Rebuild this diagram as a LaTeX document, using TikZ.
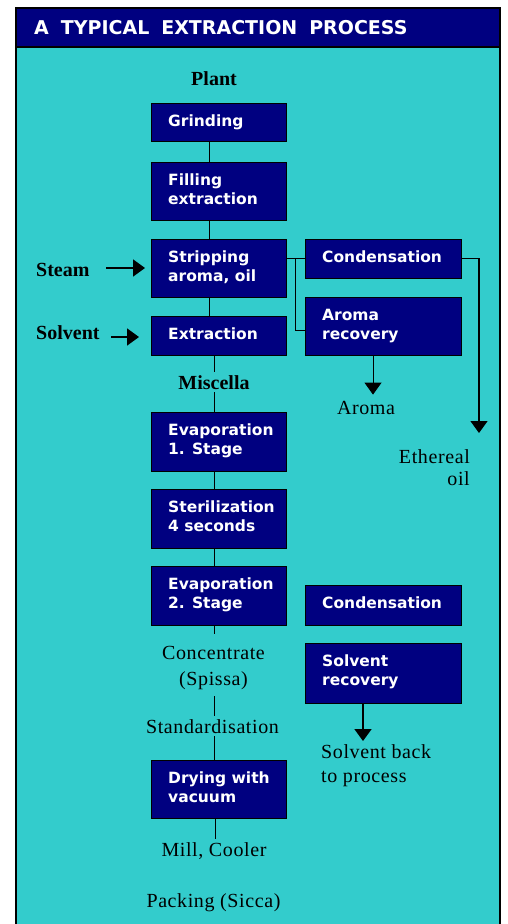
\documentclass[tikz,border=0pt]{standalone}
\usepackage{fontspec}
\setmainfont{Liberation Serif}
\newfontfamily\boxfont{DejaVu Sans}
\newfontfamily\lblfont[LetterSpace=3]{Liberation Serif}
\usetikzlibrary{arrows.meta}
\definecolor{bgteal}{RGB}{51,204,204}
\definecolor{navyc}{RGB}{0,0,128}
\newcommand\twol[3][l]{\begin{tabular}[t]{@{}#1@{}}#2\\#3\end{tabular}}
\begin{document}
\begin{tikzpicture}[x=1pt,y=-1pt,
  procbox/.style={draw=black, line width=0.8pt, fill=navyc, anchor=north west, inner sep=0pt, outer sep=0pt},
  lbox/.style={procbox, minimum width=135pt},
  rbox/.style={procbox, minimum width=156pt},
  btext/.style={anchor=base west, inner sep=0pt, text=white, font=\boxfont\bfseries\fontsize{15.5}{19}\selectfont},
  slabel/.style={inner sep=3pt, font=\lblfont\fontsize{20}{24}\selectfont},
  blabel/.style={inner sep=3pt, font=\bfseries\fontsize{20}{24}\selectfont},
  conn/.style={black, line width=0.8pt},
  arr/.style={black, line width=1.8pt, -{Triangle[width=17pt,length=12pt]}},
  midarr/.style={black, line width=1.4pt, -{Triangle[width=17pt,length=12pt]}},
  thinarr/.style={black, line width=0.9pt, -{Triangle[width=17pt,length=12pt]}},
]
\useasboundingbox (0,0) rectangle (507,924);
\fill[white] (0,0) rectangle (507,924);
% frame
\fill[bgteal] (16,8) rectangle (500,935);
\draw[line width=1.5pt] (16,8) rectangle (500,935);
\filldraw[fill=navyc, draw=black, line width=1.2pt] (16,8) rectangle (500,47);
\node[anchor=base west, inner sep=0pt, text=white, font=\boxfont\bfseries\fontsize{19}{23}\selectfont] (title) at (34,34) {\spaceskip=12pt\relax A TYPICAL EXTRACTION PROCESS};

% spine coordinates
\coordinate (xa) at (209,0);
\coordinate (xb) at (214,0);
\coordinate (xc) at (215,0);
\coordinate (xbr) at (295,0);
\coordinate (xr) at (373,0);
\coordinate (xs) at (363,0);

% left boxes
\node[lbox, minimum height=38pt] (grind) at (151,103) {};
\node[btext] (grindT) at (168,126) {Grinding};
\node[lbox, minimum height=58pt] (fill) at (151,162) {};
\node[btext] (fillT) at (168,185) {\twol{Filling}{extraction}};
\node[lbox, minimum height=58pt] (strip) at (151,239) {};
\node[btext] (stripT) at (168,262) {\twol{Stripping}{aroma, oil}};
\node[lbox, minimum height=39pt] (extr) at (151,316) {};
\node[btext] (extrT) at (168,339) {Extraction};
\node[lbox, minimum height=59pt] (evapa) at (151,412) {};
\node[btext] (evapaT) at (168,435) {\twol{Evaporation}{1. Stage}};
\node[lbox, minimum height=59pt] (steril) at (151,489) {};
\node[btext] (sterilT) at (168,512) {\twol{Sterilization}{4 seconds}};
\node[lbox, minimum height=59pt] (evapb) at (151,566) {};
\node[btext] (evapbT) at (168,589) {\twol{Evaporation}{2. Stage}};
\node[lbox, minimum height=58pt] (dry) at (151,760) {};
\node[btext] (dryT) at (168,783) {\twol{Drying with}{vacuum}};

% right boxes
\node[rbox, minimum height=39pt] (conda) at (305,239) {};
\node[btext] (condaT) at (322,262) {Condensation};
\node[rbox, minimum height=58pt] (aromarec) at (305,297) {};
\node[btext] (aromarecT) at (322,320) {\twol{Aroma}{recovery}};
\node[rbox, minimum height=40pt] (condb) at (305,585) {};
\node[btext] (condbT) at (322,608) {Condensation};
\node[rbox, minimum height=60pt] (solvrec) at (305,643) {};
\node[btext] (solvrecT) at (322,666) {\twol{Solvent}{recovery}};

% labels
\node[blabel, anchor=base] (plant) at (214,85) {Plant};
\node[blabel, anchor=base west] (steam) at (33,276) {Steam};
\node[blabel, anchor=base west] (solvent) at (33,339) {Solvent};
\node[blabel, anchor=base] (misc) at (214,389) {Miscella};
\node[slabel, anchor=base] (aroma) at (366,414) {Aroma};
\node[slabel, anchor=base east, font=\lblfont\fontsize{20}{22}\selectfont] (eth) at (473,463) {\twol[r]{Ethereal}{oil}};
\node[slabel, anchor=base, font=\lblfont\fontsize{20}{26}\selectfont] (conc) at (213.5,659) {\twol[c]{Concentrate}{(Spissa)}};
\node[slabel, anchor=base] (stand) at (212.5,733) {Standardisation};
\node[slabel, anchor=base west, inner sep=0pt] (solvback) at (321,758) {\twol{Solvent back}{to process}};
\node[slabel, anchor=base] (mill) at (214,856) {Mill, Cooler};
\node[slabel, anchor=base] (pack) at (213.5,907) {Packing (Sicca)};

% free ends
\coordinate (stA) at (106,268);
\coordinate (stB) at (145,268);
\coordinate (soA) at (111,337);
\coordinate (soB) at (139,337);
\coordinate (ethtip) at (479,433);

% main spine
\draw[conn] (grind.south -| xa) -- (fill.north -| xa);
\draw[conn] (fill.south -| xa) -- (strip.north -| xa);
\draw[conn] (strip.south -| xa) -- (extr.north -| xa);
\draw[conn] (extr.south -| xb) -- (misc.north -| xb);
\draw[conn] (misc.south -| xb) -- (evapa.north -| xb);
\draw[conn] (evapa.south -| xb) -- (steril.north -| xb);
\draw[conn] (steril.south -| xb) -- (evapb.north -| xb);
\draw[conn, shorten >=4pt] (evapb.south -| xb) -- (conc.north -| xb);
\draw[conn] (conc.south -| xb) -- (stand.north -| xb);
\draw[conn] (stand.south -| xb) -- (dry.north -| xb);
\draw[conn] (dry.south -| xc) -- (mill.north -| xc);

% branches
\draw[conn] (strip.east |- conda.west) -- (conda.west);
\draw[conn] (xbr |- conda.west) |- ([yshift=-4pt]aromarec.west);
\draw[midarr] (conda.east) -| (ethtip);
\draw[thinarr] (aromarec.south -| xr) -- ([yshift=3pt]aroma.north -| xr);
\draw[arr] (solvrec.south -| xs) -- (solvback.north -| xs);

% inputs
\draw[arr] (stA) -- (stB);
\draw[arr] (soA) -- (soB);
\end{tikzpicture}
\end{document}
